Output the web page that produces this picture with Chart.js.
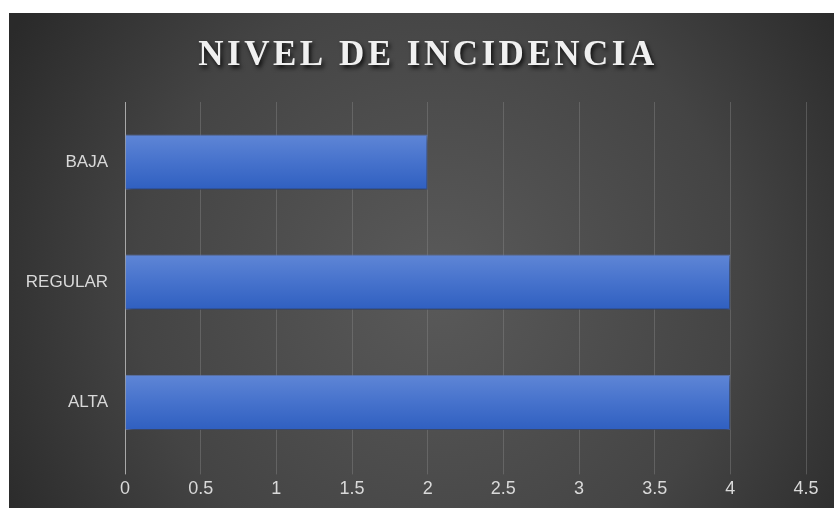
<!DOCTYPE html>
<html>
<head>
<meta charset="utf-8">
<script src="https://cdn.jsdelivr.net/npm/chart.js"></script>
<style>
    html, body {
        margin: 0;
        padding: 0;
        background: #ffffff;
    }
    .chart-container {
        position: absolute;
        left: 9px;
        top: 13px;
        width: 825px;
        height: 495px;
    }
</style>
</head>
<body>
<div class="chart-container">
    <canvas id="myChart"></canvas>
</div>

<script>
    const titleText = 'NIVEL DE INCIDENCIA';
    const categories = ['BAJA', 'REGULAR', 'ALTA'];
    const values = [2, 4, 4];
    const xTicks = [0, 0.5, 1, 1.5, 2, 2.5, 3, 3.5, 4, 4.5];

    const ctx = document.getElementById('myChart');

    // dark radial background like the office template
    const backgroundPlugin = {
        id: 'bg',
        beforeDraw(chart) {
            const c = chart.ctx;
            const w = chart.width, h = chart.height;
            c.save();
            const g = c.createRadialGradient(w * 0.52, h * 0.55, 10, w * 0.52, h * 0.55, w * 0.6);
            g.addColorStop(0, '#595959');
            g.addColorStop(0.6, '#444444');
            g.addColorStop(1, '#2a2a2a');
            c.fillStyle = g;
            c.fillRect(0, 0, w, h);
            c.restore();
        }
    };

    // title with a soft shadow
    const titlePlugin = {
        id: 'shadowTitle',
        afterDraw(chart) {
            const c = chart.ctx;
            c.save();
            c.font = 'bold 35px "Liberation Serif", serif';
            c.letterSpacing = '3.5px';
            c.textAlign = 'center';
            c.textBaseline = 'middle';
            c.shadowColor = 'rgba(0,0,0,0.8)';
            c.shadowBlur = 4;
            c.shadowOffsetX = 2;
            c.shadowOffsetY = 3;
            c.fillStyle = '#f0f0f0';
            c.fillText(titleText, 419, 43);
            c.restore();
        }
    };

    const shadowPlugin = {
        id: 'barShadow',
        beforeDatasetsDraw(chart) {
            const c = chart.ctx;
            c.save();
            c.shadowColor = 'rgba(0,0,0,0.55)';
            c.shadowBlur = 6;
            c.shadowOffsetX = 2;
            c.shadowOffsetY = 3;
        },
        afterDatasetsDraw(chart) {
            chart.ctx.restore();
        }
    };

    const barFill = (context) => {
        const chart = context.chart;
        const yScale = chart.scales.y;
        if (!yScale || context.dataIndex === undefined) return '#4472c4';
        const center = yScale.getPixelForValue(context.dataIndex);
        if (!Number.isFinite(center)) return '#4472c4';
        const half = 28;
        const g = chart.ctx.createLinearGradient(0, center - half, 0, center + half);
        g.addColorStop(0, '#5f86d6');
        g.addColorStop(0.5, '#4672cc');
        g.addColorStop(1, '#2f5fc0');
        return g;
    };

    new Chart(ctx, {
        type: 'bar',
        data: {
            labels: categories,
            datasets: [{
                label: titleText,
                data: values,
                backgroundColor: barFill,
                borderColor: 'rgba(110,140,210,0.8)',
                borderWidth: 1,
                categoryPercentage: 1,
                barPercentage: 0.46
            }]
        },
        options: {
            indexAxis: 'y',
            responsive: true,
            maintainAspectRatio: false,
            animation: false,
            layout: {
                padding: { top: 89, right: 28, bottom: 4, left: 0 }
            },
            plugins: {
                legend: { display: false },
                title: { display: false },
                tooltip: { enabled: false }
            },
            scales: {
                x: {
                    min: 0,
                    max: 4.5,
                    afterBuildTicks(axis) {
                        axis.ticks = xTicks.map(v => ({ value: v }));
                    },
                    grid: {
                        color: (c) => c.tick && c.tick.value === 0 ? '#a8a8a8' : 'rgba(140,140,140,0.4)',
                        lineWidth: 1,
                        tickLength: 12,
                        drawTicks: true
                    },
                    border: { display: false },
                    ticks: {
                        color: '#d9d9d9',
                        padding: 4,
                        font: { family: '"Liberation Sans Narrow", "Liberation Sans", sans-serif', size: 18 },
                        callback: (v) => String(v)
                    }
                },
                y: {
                    afterFit(axis) {
                        axis.width = 116;
                    },
                    grid: { display: false, drawTicks: false },
                    border: { display: false },
                    ticks: {
                        color: '#d9d9d9',
                        padding: 17,
                        font: { family: '"Liberation Sans Narrow", "Liberation Sans", sans-serif', size: 17 }
                    }
                }
            }
        },
        plugins: [backgroundPlugin, shadowPlugin, titlePlugin]
    });
</script>
</body>
</html>
